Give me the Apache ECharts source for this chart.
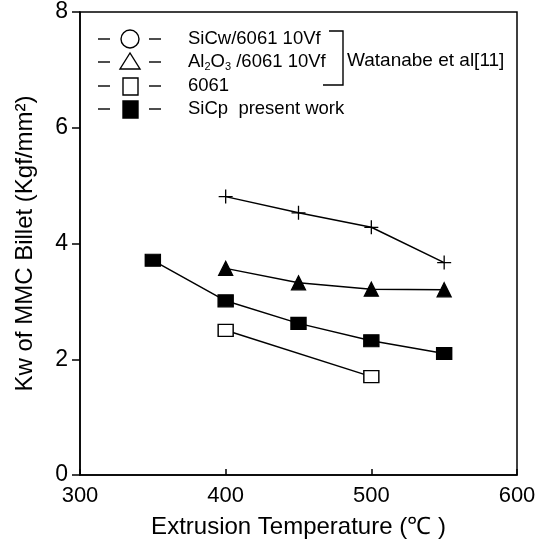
<!DOCTYPE html>
<html>
<head>
<meta charset="utf-8">
<script src="https://cdn.jsdelivr.net/npm/echarts@6/dist/echarts.min.js"></script>
<style>
  html, body { margin: 0; padding: 0; background: #fff; }
  #chart { width: 546px; height: 546px; }
</style>
</head>
<body>
<div id="chart"></div>
<script>
// values
const temps = [350, 400, 450, 500, 550]
const sicwVals = [null, 4.81, 4.53, 4.28, 3.67]
const al2o3Vals = [null, 3.57, 3.32, 3.21, 3.20]
const alloyVals = [null, 2.50, null, 1.70, null]
const sicpVals = [3.71, 3.01, 2.62, 2.32, 2.10]
const xTicks = [300, 400, 500, 600]
const yTicks = [0, 2, 4, 6, 8]

const FONT = "Liberation Sans, Arial, sans-serif"
const plusPath = "path://M0,5 L10,5 M5,0 L5,10"

function pairs(vals) {
  return temps.map((t, i) => [t, vals[i]]).filter(p => p[1] != null)
}

function lineSeries(name, vals, symbol, size, fill) {
  return {
    name, type: "line",
    data: pairs(vals),
    symbol, symbolSize: size,
    showSymbol: true,
    lineStyle: { color: "#000", width: 1.5 },
    itemStyle: { color: fill, borderColor: "#000", borderWidth: 1.3 },
    z: 3,
  }
}

// hand-drawn style legend: dash - symbol - dash, label
const legendRows = [
  { y: 39, mark: "circle", text: "SiCw/6061 10Vf" },
  { y: 62, mark: "triangle", text: "Al{s|2}O{s|3} /6061 10Vf" },
  { y: 86, mark: "square", text: "6061" },
  { y: 109, mark: "filled", text: "SiCp  present work" },
]

function legendGraphics() {
  const g = []
  legendRows.forEach(r => {
    g.push({ type: "line", shape: { x1: 98, y1: r.y, x2: 110, y2: r.y }, style: { stroke: "#000", lineWidth: 1.4 } })
    g.push({ type: "line", shape: { x1: 149, y1: r.y, x2: 161, y2: r.y }, style: { stroke: "#000", lineWidth: 1.4 } })
    const st = { fill: r.mark === "filled" ? "#000" : "#fff", stroke: "#000", lineWidth: 1.4 }
    if (r.mark === "circle") g.push({ type: "circle", shape: { cx: 130, cy: r.y, r: 9 }, style: st })
    if (r.mark === "triangle") g.push({ type: "polygon", shape: { points: [[130, r.y - 9], [120, r.y + 7], [140, r.y + 7]] }, style: st })
    if (r.mark === "square" || r.mark === "filled") g.push({ type: "rect", shape: { x: 123, y: r.y - 8, width: 15, height: 17 }, style: st })
    g.push({
      type: "text", x: 188, y: r.y,
      style: {
        text: r.text, fill: "#000", font: "18.5px " + FONT, verticalAlign: "middle",
        rich: { s: { fontSize: 11, verticalAlign: "bottom", padding: [9, 0, 0, 0], fontFamily: FONT } },
      },
    })
  })
  // bracket around the Watanabe rows
  g.push({ type: "polyline", shape: { points: [[329, 31], [343, 31], [343, 85], [323, 85]] }, style: { stroke: "#000", lineWidth: 1.4, fill: null } })
  g.push({ type: "text", x: 347, y: 61, style: { text: "Watanabe et al[11]", fill: "#000", font: "19px " + FONT, verticalAlign: "middle" } })
  return g
}

const chart = echarts.init(document.getElementById("chart"))
chart.setOption({
  animation: false,
  backgroundColor: "#fff",
  grid: { left: 80, right: 29, top: 12, bottom: 71, show: true, borderColor: "#000", borderWidth: 1.5 },
  xAxis: {
    type: "value", min: xTicks[0], max: xTicks[xTicks.length - 1], interval: 100,
    name: "Extrusion Temperature (\u2103 )", nameLocation: "middle", nameGap: 40,
    nameTextStyle: { color: "#000", fontSize: 24, fontFamily: FONT },
    axisLine: { lineStyle: { color: "#000", width: 1.5 } },
    axisTick: { inside: true, length: 6, lineStyle: { color: "#000", width: 1.5 } },
    axisLabel: { color: "#000", fontSize: 22, fontFamily: FONT, margin: 10 },
    splitLine: { show: false },
  },
  yAxis: {
    type: "value", min: yTicks[0], max: yTicks[yTicks.length - 1], interval: 2,
    name: "Kw of MMC Billet (Kgf/mm\u00b2)", nameLocation: "middle", nameGap: 43,
    nameTextStyle: { color: "#000", fontSize: 24, fontFamily: FONT },
    axisLine: { lineStyle: { color: "#000", width: 1.5 } },
    axisTick: { inside: false, length: 8, lineStyle: { color: "#000", width: 1.5 } },
    axisLabel: { color: "#000", fontSize: 23, fontFamily: FONT, margin: 12 },
    splitLine: { show: false },
  },
  series: [
    lineSeries("SiCw/6061 10Vf", sicwVals, plusPath, 14, "none"),
    lineSeries("Al2O3/6061 10Vf", al2o3Vals, "triangle", 14, "#000"),
    lineSeries("6061", alloyVals, "rect", [15, 12], "#fff"),
    lineSeries("SiCp present work", sicpVals, "rect", [15, 12], "#000"),
  ],
  graphic: legendGraphics(),
})
</script>
</body>
</html>
